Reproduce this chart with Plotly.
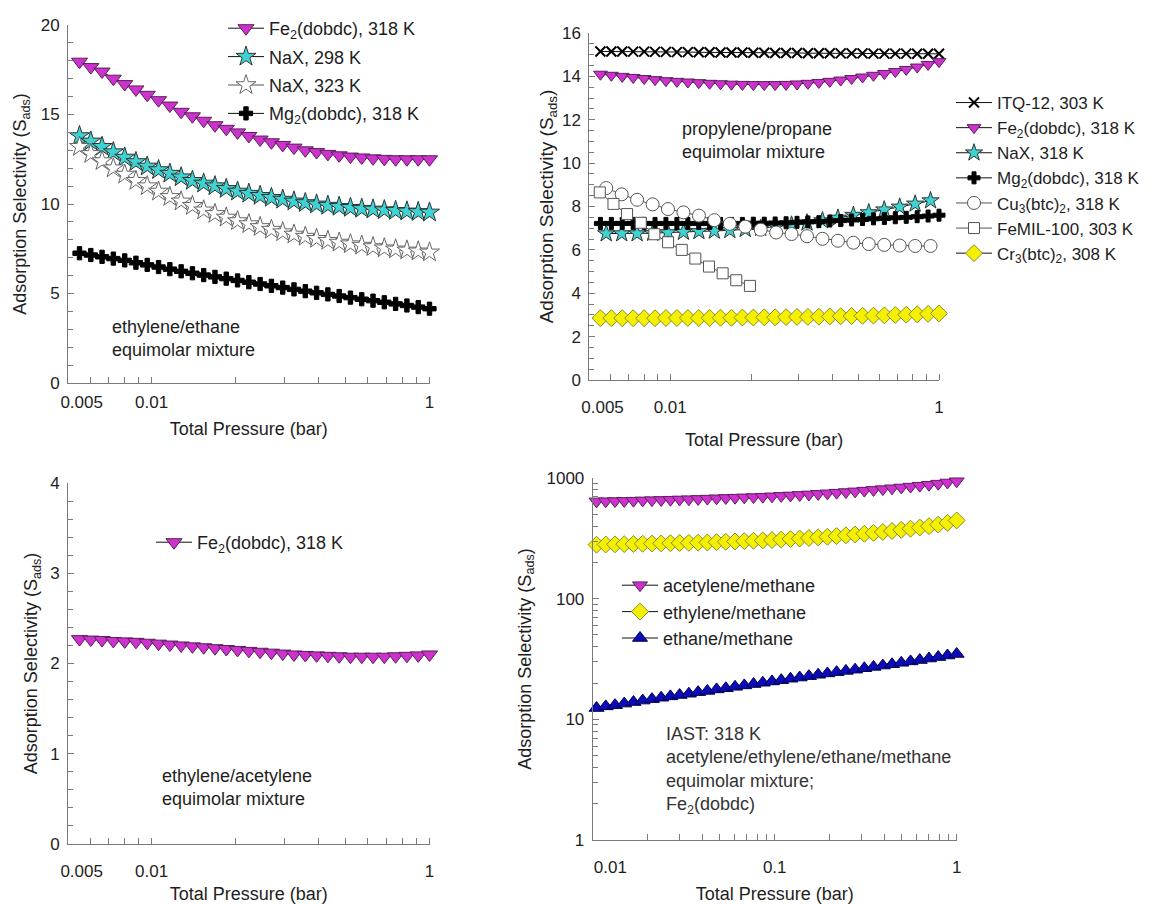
import plotly.graph_objects as go

# ---------------- pressure grids (bar, log-spaced sampling) ----------------
P32 = [0.0550, 0.0604, 0.0663, 0.0728, 0.0800, 0.0878, 0.0964, 0.1059,
       0.1163, 0.1277, 0.1402, 0.1539, 0.1690, 0.1856, 0.2038, 0.2238,
       0.2457, 0.2698, 0.2963, 0.3253, 0.3573, 0.3923, 0.4308, 0.4730,
       0.5194, 0.5704, 0.6263, 0.6877, 0.7552, 0.8293, 0.9107, 1.0000]
P22 = [0.0578, 0.0660, 0.0753, 0.0860, 0.0981, 0.1120, 0.1279, 0.1459,
       0.1666, 0.1902, 0.2171, 0.2478, 0.2828, 0.3228, 0.3685, 0.4206,
       0.4801, 0.5480, 0.6255, 0.7141, 0.8151, 0.9300]
P12 = [0.0547, 0.0615, 0.0691, 0.0777, 0.0873, 0.0982, 0.1104, 0.1240,
       0.1394, 0.1567, 0.1761, 0.1980]
P40 = [0.01050, 0.01179, 0.01326, 0.01490, 0.01675, 0.01882, 0.02116, 0.02378,
       0.02673, 0.03004, 0.03376, 0.03795, 0.04265, 0.04794, 0.05388, 0.06056,
       0.06806, 0.07650, 0.08598, 0.09663, 0.1086, 0.1221, 0.1372, 0.1542,
       0.1733, 0.1948, 0.2189, 0.2461, 0.2765, 0.3108, 0.3493, 0.3927,
       0.4413, 0.4960, 0.5575, 0.6267, 0.7043, 0.7916, 0.8898, 1.0000]

# ---------------- ethylene/ethane selectivities ----------------
EE_FE2 = [17.95, 17.65, 17.4, 17.0, 16.7, 16.4, 16.1, 15.8, 15.5, 15.15,
          14.9, 14.65, 14.4, 14.2, 14.0, 13.8, 13.6, 13.45, 13.3, 13.15,
          13.0, 12.9, 12.8, 12.72, 12.65, 12.6, 12.55, 12.52, 12.5, 12.5,
          12.5, 12.5]
EE_NAX_298 = [13.8, 13.5, 13.2, 12.9, 12.6, 12.35, 12.1, 11.9, 11.7, 11.5,
              11.3, 11.15, 11.0, 10.85, 10.7, 10.58, 10.46, 10.35, 10.25, 10.15,
              10.06, 9.98, 9.91, 9.85, 9.79, 9.74, 9.7, 9.66, 9.62, 9.59,
              9.56, 9.53]
EE_NAX_323 = [13.2, 12.8, 12.4, 12.0, 11.65, 11.3, 11.0, 10.7, 10.4, 10.15,
              9.9, 9.65, 9.45, 9.25, 9.05, 8.88, 8.72, 8.57, 8.43, 8.3,
              8.18, 8.06, 7.95, 7.85, 7.76, 7.68, 7.6, 7.53, 7.47, 7.41,
              7.36, 7.3]
EE_MG2 = [7.25, 7.15, 7.05, 6.95, 6.85, 6.72, 6.6, 6.48, 6.36, 6.24,
          6.13, 6.03, 5.93, 5.83, 5.73, 5.63, 5.53, 5.43, 5.33, 5.23,
          5.13, 5.04, 4.95, 4.86, 4.77, 4.68, 4.6, 4.51, 4.42, 4.33,
          4.24, 4.15]

# ---------------- propylene/propane selectivities ----------------
PP_ITQ12 = [15.15, 15.15, 15.15, 15.14, 15.14, 15.13, 15.13, 15.12, 15.12, 15.11,
            15.11, 15.1, 15.1, 15.1, 15.09, 15.09, 15.08, 15.08, 15.08, 15.07,
            15.07, 15.07, 15.06, 15.06, 15.06, 15.05, 15.05, 15.05, 15.05, 15.04,
            15.04, 15.04]
PP_FE2 = [14.1, 14.05, 14.0, 13.95, 13.9, 13.85, 13.8, 13.77, 13.74, 13.71,
          13.68, 13.66, 13.64, 13.63, 13.62, 13.62, 13.62, 13.63, 13.65, 13.68,
          13.72, 13.77, 13.83, 13.9, 13.97, 14.05, 14.13, 14.22, 14.32, 14.43,
          14.55, 14.68]
PP_NAX = [6.75, 6.75, 6.75, 6.77, 6.8, 6.82, 6.85, 6.87, 6.9, 6.95,
          7.0, 7.07, 7.15, 7.25, 7.35, 7.47, 7.6, 7.72, 7.85, 7.98,
          8.12, 8.27]
PP_MG2 = [7.22, 7.22, 7.22, 7.22, 7.22, 7.22, 7.22, 7.22, 7.22, 7.22,
          7.22, 7.22, 7.22, 7.22, 7.23, 7.23, 7.24, 7.25, 7.27, 7.29,
          7.3, 7.33, 7.35, 7.38, 7.4, 7.43, 7.45, 7.48, 7.5, 7.53,
          7.56, 7.6]
PP_CU3 = [8.85, 8.56, 8.31, 8.1, 7.88, 7.73, 7.58, 7.37, 7.2, 7.07,
          6.93, 6.8, 6.73, 6.63, 6.51, 6.42, 6.33, 6.27, 6.23, 6.2,
          6.18, 6.18]
PP_FEMIL = [8.65, 8.12, 7.65, 7.25, 6.72, 6.35, 6.0, 5.6, 5.23, 4.92,
            4.6, 4.34]
PP_CR3 = [2.85, 2.85, 2.85, 2.85, 2.85, 2.85, 2.86, 2.86, 2.86, 2.86,
          2.86, 2.87, 2.87, 2.88, 2.88, 2.89, 2.89, 2.9, 2.91, 2.91,
          2.92, 2.93, 2.94, 2.95, 2.96, 2.97, 2.98, 3.0, 3.01, 3.03,
          3.05, 3.07]

# ---------------- ethylene/acetylene selectivity ----------------
EA_FE2 = [2.27, 2.265, 2.26, 2.25, 2.245, 2.24, 2.23, 2.22, 2.21, 2.2,
          2.19, 2.18, 2.17, 2.16, 2.15, 2.14, 2.13, 2.12, 2.11, 2.1,
          2.095, 2.09, 2.085, 2.08, 2.075, 2.075, 2.075, 2.075, 2.08, 2.085,
          2.09, 2.1]

# ---------------- C2/methane selectivities, Fe2(dobdc), IAST ----------------
CM_ACETYLENE = [640, 642, 644, 646, 649, 652, 655, 658, 661, 664,
                667, 671, 675, 679, 683, 687, 691, 695, 700, 705,
                711, 717, 724, 731, 739, 747, 756, 765, 775, 786,
                797, 809, 822, 835, 849, 864, 880, 898, 918, 940]
CM_ETHYLENE = [280, 281, 282, 283, 284, 285, 286, 287, 288, 289,
               290, 291, 292, 294, 296, 298, 300, 302, 304, 306,
               309, 312, 315, 318, 322, 326, 330, 335, 340, 345,
               351, 357, 364, 372, 380, 389, 399, 411, 425, 445]
CM_ETHANE = [12.4, 12.8, 13.1, 13.5, 13.9, 14.3, 14.7, 15.1, 15.5, 15.9,
             16.3, 16.8, 17.2, 17.7, 18.1, 18.6, 19.1, 19.6, 20.1, 20.6,
             21.1, 21.7, 22.2, 22.8, 23.4, 24.0, 24.6, 25.2, 25.8, 26.5,
             27.2, 27.9, 28.6, 29.4, 30.2, 31.0, 31.9, 32.8, 33.8, 34.8]

# ---------------- tick labels ----------------
X_TICK_POS_A = [0.056, 0.1, 1.0]
X_TICK_TEXT_A = ["0.005", "0.01", "1"]
X_TICK_POS_D = [0.0125, 0.1, 1.0]
X_TICK_TEXT_D = ["0.01", "0.1", "1"]
X_MINOR_A = [0.06, 0.07, 0.08, 0.09, 0.1, 0.2, 0.3, 0.4, 0.5, 0.6, 0.7, 0.8, 0.9, 1.0]
X_MINOR_D = [0.02, 0.03, 0.04, 0.05, 0.06, 0.07, 0.08, 0.09, 0.1,
             0.2, 0.3, 0.4, 0.5, 0.6, 0.7, 0.8, 0.9, 1.0]
Y_TICK_D = [1, 10, 100, 1000]
Y_TICK_TEXT_D = ["1", "10", "100", "1000"]
Y_MINOR_D = [2, 3, 4, 5, 6, 7, 8, 9, 20, 30, 40, 50, 60, 70, 80, 90,
             200, 300, 400, 500, 600, 700, 800, 900]

# ---------------- styling ----------------
W, H = 1153, 904
FONT = "Liberation Sans, Arial, Helvetica, sans-serif"
TXT = "#1e1e1e"
AXC = "#7a7a7a"
MAGENTA = "#cc33cc"
CYAN = "#3ed2d2"
YELLOW = "#f5f000"
BLUE = "#0b0bb8"
S_ADS = "Adsorption Selectivity (S<sub>ads</sub>)"
XTITLE = "Total Pressure (bar)"


def fx(px):
    return px / W


def fy(py):
    return 1 - py / H


def series(x, y, name, symbol, size, fill, edge, axes, legend,
           line_color="#111111", edge_w=1):
    return go.Scatter(
        x=x, y=y, name=name, mode="lines+markers",
        line=dict(color=line_color, width=1),
        marker=dict(symbol=symbol, size=size, color=fill,
                    line=dict(color=edge, width=edge_w)),
        xaxis=axes[0], yaxis=axes[1], legend=legend, legendgroup=name + legend,
        cliponaxis=False,
    )


A = ("x", "y")
B = ("x2", "y2")
C = ("x3", "y3")
D = ("x4", "y4")

traces = [
    # ethylene/ethane
    series(P32, EE_FE2, "Fe<sub>2</sub>(dobdc), 318 K", "triangle-down", 14,
           MAGENTA, "#5a1f5a", A, "legend"),
    series(P32, EE_NAX_298, "NaX, 298 K", "star", 15, CYAN, "#333333", A, "legend"),
    series(P32, EE_NAX_323, "NaX, 323 K", "star", 15, "white", "#666666", A, "legend",
           line_color="#555555"),
    series(P32, EE_MG2, "Mg<sub>2</sub>(dobdc), 318 K", "cross", 11, "#000000",
           "#000000", A, "legend"),
    # propylene/propane
    series(P32, PP_ITQ12, "ITQ-12, 303 K", "x-thin", 10, "#000000", "#000000", B,
           "legend2", edge_w=2),
    series(P32, PP_FE2, "Fe<sub>2</sub>(dobdc), 318 K", "triangle-down", 12,
           MAGENTA, "#5a1f5a", B, "legend2"),
    series(P22, PP_NAX, "NaX, 318 K", "star", 13, CYAN, "#333333", B, "legend2"),
    series(P32, PP_MG2, "Mg<sub>2</sub>(dobdc), 318 K", "cross", 10, "#000000",
           "#000000", B, "legend2"),
    series(P22, PP_CU3, "Cu<sub>3</sub>(btc)<sub>2</sub>, 318 K", "circle", 13,
           "white", "#555555", B, "legend2", line_color="#555555"),
    series(P12, PP_FEMIL, "FeMIL-100, 303 K", "square", 11, "white", "#555555",
           B, "legend2", line_color="#555555"),
    series(P32, PP_CR3, "Cr<sub>3</sub>(btc)<sub>2</sub>, 308 K", "diamond", 13,
           YELLOW, "#8a8a30", B, "legend2"),
    # ethylene/acetylene
    series(P32, EA_FE2, "Fe<sub>2</sub>(dobdc), 318 K", "triangle-down", 14,
           MAGENTA, "#5a1f5a", C, "legend3"),
    # C2/methane
    series(P40, CM_ACETYLENE, "acetylene/methane", "triangle-down", 13,
           MAGENTA, "#5a1f5a", D, "legend4"),
    series(P40, CM_ETHYLENE, "ethylene/methane", "diamond", 13,
           YELLOW, "#8a8a30", D, "legend4"),
    series(P40, CM_ETHANE, "ethane/methane", "triangle-up", 13,
           BLUE, "#000055", D, "legend4"),
]

fig = go.Figure(traces)

tick_font = dict(family=FONT, size=17, color=TXT)
title_font = dict(family=FONT, size=18, color=TXT)


def xaxis(dom, rng, tickvals, ticktext, minor_vals, anchor, label_gap, standoff):
    return dict(
        type="log", domain=dom, range=rng, anchor=anchor, automargin=False,
        tickmode="array", tickvals=tickvals, ticktext=ticktext, ticks="",
        minor=dict(tickmode="array", tickvals=minor_vals, ticks="inside",
                   ticklen=6, tickcolor=AXC, tickwidth=1, showgrid=False),
        showline=True, linecolor=AXC, linewidth=1, showgrid=False, zeroline=False,
        tickfont=tick_font, ticklabelstandoff=label_gap,
        title=dict(text=XTITLE, font=title_font, standoff=standoff),
    )


def yaxis_lin(dom, rng, dtick, minor_dtick, anchor, standoff, tsize=18):
    return dict(
        domain=dom, range=rng, anchor=anchor, dtick=dtick, tick0=0, automargin=False,
        ticks="inside", ticklen=6, tickcolor=AXC,
        minor=dict(dtick=minor_dtick, tick0=0, ticks="inside", ticklen=5,
                   tickcolor=AXC, showgrid=False),
        showline=True, linecolor=AXC, linewidth=1, showgrid=False, zeroline=False,
        tickfont=tick_font, ticklabelstandoff=4,
        title=dict(text=S_ADS, font=dict(title_font, size=tsize), standoff=standoff),
    )


def legend_box(left, top, size, gap=0):
    return dict(x=fx(left), y=fy(top), xanchor="left", yanchor="top",
                bgcolor="rgba(0,0,0,0)", font=dict(family=FONT, size=size, color=TXT),
                tracegroupgap=gap, itemwidth=36)


fig.update_layout(
    width=W, height=H, autosize=False,
    margin=dict(l=0, r=0, t=0, b=0, autoexpand=False),
    paper_bgcolor="white", plot_bgcolor="white",
    font=dict(family=FONT, color=TXT),
    xaxis=xaxis([fx(68), fx(429.5)], [-1.30103, 0], X_TICK_POS_A, X_TICK_TEXT_A,
                X_MINOR_A, "y", 4, 10),
    yaxis=yaxis_lin([fy(383), fy(25)], [0, 20], 5, 1, "x", 9),
    xaxis2=xaxis([fx(589.3), fx(939)], [-1.30103, 0], X_TICK_POS_A, X_TICK_TEXT_A,
                 X_MINOR_A, "y2", 12, 16),
    yaxis2=yaxis_lin([fy(380), fy(33)], [0, 16], 2, 0.5, "x2", 3, tsize=19),
    xaxis3=xaxis([fx(68), fx(429.5)], [-1.30103, 0], X_TICK_POS_A, X_TICK_TEXT_A,
                 X_MINOR_A, "y3", 12, 8),
    yaxis3=yaxis_lin([fy(844), fy(483)], [0, 4], 1, 0.2, "x3", 7),
    xaxis4=xaxis([fx(592.7), fx(956.7)], [-2, 0], X_TICK_POS_D, X_TICK_TEXT_D,
                 X_MINOR_D, "y4", 12, 10),
    yaxis4=dict(
        type="log", domain=[fy(840), fy(478)], range=[0, 3], anchor="x4",
        automargin=False,
        tickmode="array", tickvals=Y_TICK_D, ticktext=Y_TICK_TEXT_D,
        ticks="inside", ticklen=6, tickcolor=AXC,
        minor=dict(tickmode="array", tickvals=Y_MINOR_D, ticks="inside",
                   ticklen=5, tickcolor=AXC, showgrid=False),
        showline=True, linecolor=AXC, linewidth=1, showgrid=False, zeroline=False,
        tickfont=tick_font, ticklabelstandoff=4,
        title=dict(text=S_ADS, font=title_font, standoff=10),
    ),
    legend=legend_box(223, 10, 18, gap=2),
    legend2=legend_box(951, 85, 17),
    legend3=legend_box(151, 524, 18),
    legend4=legend_box(617, 567, 18),
)

note_font = dict(family=FONT, size=18, color=TXT)
fig.add_annotation(x=fx(110), y=fy(338), xref="paper", yref="paper",
                   xanchor="left", yanchor="middle", align="left", showarrow=False,
                   text="ethylene/ethane<br>equimolar mixture", font=note_font)
fig.add_annotation(x=fx(680), y=fy(140), xref="paper", yref="paper",
                   xanchor="left", yanchor="middle", align="left", showarrow=False,
                   text="propylene/propane<br>equimolar mixture", font=note_font)
fig.add_annotation(x=fx(160), y=fy(787), xref="paper", yref="paper",
                   xanchor="left", yanchor="middle", align="left", showarrow=False,
                   text="ethylene/acetylene<br>equimolar mixture", font=note_font)
fig.add_annotation(x=fx(664), y=fy(770), xref="paper", yref="paper",
                   xanchor="left", yanchor="middle", align="left", showarrow=False,
                   text="IAST: 318 K<br>acetylene/ethylene/ethane/methane<br>"
                        "equimolar mixture;<br>Fe<sub>2</sub>(dobdc)",
                   font=dict(family=FONT, size=18, color="#333333"))

fig.write_html("out.html")
